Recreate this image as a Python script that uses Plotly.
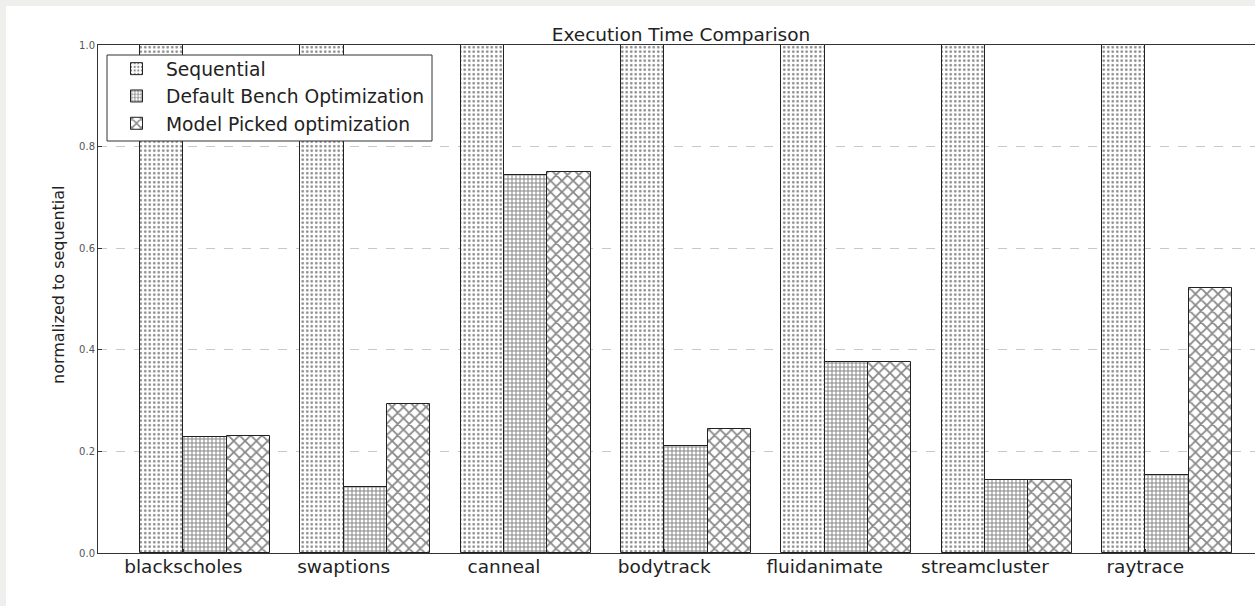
import plotly.graph_objects as go

benchmarks = ["blackscholes", "swaptions", "canneal", "bodytrack", "fluidanimate", "streamcluster", "raytrace"]
sequential = [1.0, 1.0, 1.0, 1.0, 1.0, 1.0, 1.0]
default_bench = [0.228, 0.130, 0.744, 0.210, 0.376, 0.144, 0.154]
model_picked = [0.230, 0.293, 0.750, 0.244, 0.376, 0.144, 0.522]

series_names = ["Sequential", "Default Bench Optimization", "Model Picked optimization"]
series_values = [sequential, default_bench, model_picked]
hatches = [".", "+", "x"]
hatch_sizes = [4.5, 4, 8]
hatch_solidity = [0.28, 0.45, 0.4]

BAR_W = 0.27
FONT = "DejaVu Sans"

W, H = 1255, 606
L, T, B = 98, 45, 53
plot_w = W - L
plot_h = H - T - B

fig = go.Figure()
idx = list(range(len(benchmarks)))
for k, (name, vals) in enumerate(zip(series_names, series_values)):
    fig.add_trace(go.Bar(
        x=[i + k * BAR_W + BAR_W / 2 for i in idx],
        y=vals,
        width=BAR_W,
        name=name,
        legendgroup=name,
        marker=dict(
            color="white",
            line=dict(color="#222222", width=1),
            pattern=dict(shape=hatches[k], fgcolor="#111111", bgcolor="white",
                         size=hatch_sizes[k], solidity=hatch_solidity[k]),
        ),
    ))

# pixel -> paper helpers for decoration placement
def px_x(p):
    return (p - L) / plot_w

def px_y(p):
    return (H - B - p) / plot_h

fig.update_layout(
    width=W, height=H,
    margin=dict(l=L, r=0, t=T, b=B, pad=0),
    paper_bgcolor="#eff0ee",
    plot_bgcolor="white",
    barmode="overlay",
    bargap=0,
    font=dict(family=FONT, color="#222222"),
    showlegend=True,
    legend=dict(
        x=px_x(107), y=px_y(50), xanchor="left", yanchor="top",
        bgcolor="rgba(0,0,0,0)", borderwidth=0,
        font=dict(family=FONT, size=18.7, color="#222222"),
        tracegroupgap=4, itemwidth=49, traceorder="normal",
    ),
    title=dict(
        text="Execution Time Comparison",
        x=681 / W, xref="container", xanchor="center",
        y=1 - 35 / H, yref="container", yanchor="middle",
        font=dict(family=FONT, size=18.5, color="#222222"),
    ),
    xaxis=dict(
        range=[(L - 140) / 160.33, (W - 140) / 160.33],
        tickvals=[i + BAR_W for i in idx],
        ticktext=benchmarks,
        tickfont=dict(family=FONT, size=18.5, color="#222222"),
        ticklabelstandoff=-3,
        showline=True, linecolor="#333333", linewidth=1, mirror=True,
        ticks="inside", ticklen=4, tickcolor="#333333",
        showgrid=False, zeroline=False,
        fixedrange=True,
    ),
    yaxis=dict(
        range=[0, 1],
        tickvals=[0, 0.2, 0.4, 0.6, 0.8, 1.0],
        tickformat=".1f",
        tickfont=dict(family=FONT, size=10, color="#555555"),
        showline=True, linecolor="#333333", linewidth=1, mirror=True,
        ticks="inside", ticklen=4, tickcolor="#333333",
        showgrid=True, gridcolor="#c8c8c8", griddash="dash", gridwidth=1,
        zeroline=False,
        fixedrange=True,
    ),
    shapes=[
        dict(
            type="rect", xref="paper", yref="paper", layer="below",
            x0=px_x(6), x1=px_x(W + 5), y0=px_y(H + 5), y1=px_y(6),
            fillcolor="white", line=dict(width=0),
        ),
        # legend frame
        dict(
            type="rect", xref="paper", yref="paper", layer="above",
            x0=px_x(107), x1=px_x(432), y0=px_y(141), y1=px_y(55),
            fillcolor="white", line=dict(width=1, color="#333333"),
        ),
    ],
    annotations=[dict(
        text="normalized to sequential", textangle=-90,
        xref="paper", yref="paper", x=px_x(58), y=px_y(285),
        xanchor="center", yanchor="middle", showarrow=False,
        font=dict(family=FONT, size=16, color="#222222"),
    )],
)

fig.write_html(
    "out.html",
    config={"displayModeBar": False},
    post_script="document.body.style.margin='0px';document.body.style.overflow='hidden';",
)
